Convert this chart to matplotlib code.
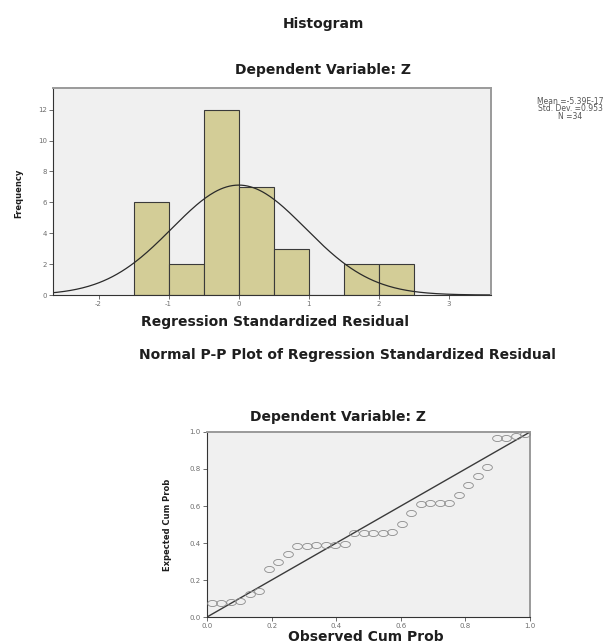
import numpy as np
import matplotlib.pyplot as plt
from matplotlib.path import Path

# Histogram of standardized residuals (bin edges and counts)
bin_edges = [-1.5, -1.0, -0.5, 0.0, 0.5, 1.0, 1.5, 2.0, 2.5]
counts = [6, 2, 12, 7, 3, 0, 2, 2]
res_mean = -5.39e-17
res_std = 0.953
n_obs = 34

# P-P plot values
expected_cum = [0.075, 0.078, 0.080, 0.085, 0.127, 0.142, 0.258, 0.296,
                0.340, 0.383, 0.385, 0.387, 0.388, 0.390, 0.392, 0.452,
                0.454, 0.455, 0.456, 0.458, 0.504, 0.564, 0.612, 0.614,
                0.616, 0.618, 0.660, 0.715, 0.764, 0.813, 0.965, 0.968,
                0.980, 0.990]

plt.rcParams['font.family'] = ['DejaVu Sans']
plt.rcParams['axes.unicode_minus'] = False
bg = '#f0f0f0'
frame = '#9a9a9a'
tick_kw = dict(labelsize=5, labelcolor='#6e6e6e', length=3, width=0.6,
               color='#555555', pad=1.5)
lab_kw = dict(fontsize=10, fontweight='bold', color='#1e1e1e', ha='center', va='center')

# stretched circle marker (the source image is wider than tall)
t = np.linspace(0, 2 * np.pi, 40)
ellipse = Path(np.column_stack([1.6 * np.cos(t), np.sin(t)]))


def style_frame(ax):
    for side in ['top', 'right']:
        ax.spines[side].set_color(frame)
        ax.spines[side].set_linewidth(1.4)
    for side in ['left', 'bottom']:
        ax.spines[side].set_color('#333333')
        ax.spines[side].set_linewidth(0.8)


fig = plt.figure(figsize=(6.13, 6.44), dpi=100)

# --- Histogram ---
ax1 = fig.add_axes([0.0865, 0.5419, 0.7145, 0.3214])
ax1.set_facecolor(bg)
widths = np.diff(bin_edges)
ax1.bar(bin_edges[:-1], counts, width=widths, align='edge',
        color='#d3cd97', edgecolor='#3a3a3a', linewidth=0.8)
xs = np.linspace(-2.7, 3.7, 300)
binw = widths[0]
curve = n_obs * binw * np.exp(-0.5 * ((xs - res_mean) / res_std) ** 2) / (res_std * np.sqrt(2 * np.pi))
ax1.plot(xs, curve, color='#2a2a2a', linewidth=0.9)
ax1.set_xlim(-2.65, 3.6)
ax1.set_ylim(0, 13.4)
ax1.set_xticks([-2, -1, 0, 1, 2, 3])
ax1.set_yticks([0, 2, 4, 6, 8, 10, 12])
ax1.tick_params(**tick_kw)
style_frame(ax1)

fig.text(0.527, 0.963, 'Histogram', **lab_kw)
fig.text(0.527, 0.891, 'Dependent Variable: Z', **lab_kw)
fig.text(0.449, 0.500, 'Regression Standardized Residual', **lab_kw)
fig.text(0.031, 0.700, 'Frequency', rotation=90, fontsize=6, fontweight='bold',
         color='#1e1e1e', ha='center', va='center')
fig.text(0.93, 0.831, 'Mean =%.2E\nStd. Dev. =%.3f\nN =%d' % (res_mean, res_std, n_obs),
         ha='center', va='center', fontsize=5.5, linespacing=0.8, color='#555555')

# --- Normal P-P plot ---
observed_cum = (np.arange(1, n_obs + 1) - 0.5) / n_obs
ax2 = fig.add_axes([0.3377, 0.0419, 0.527, 0.2873])
ax2.set_facecolor(bg)
ax2.plot([0, 1], [0, 1], color='#3a3a3a', linewidth=1.0)
ax2.plot(observed_cum, expected_cum, linestyle='none', marker=ellipse, markersize=7,
         markerfacecolor='none', markeredgecolor='#8a8a8a', markeredgewidth=0.6, zorder=3)
ax2.set_xlim(0, 1)
ax2.set_ylim(0, 1)
pp_ticks = np.arange(0, 1.01, 0.2)
ax2.set_xticks(pp_ticks)
ax2.set_yticks(pp_ticks)
ax2.set_xticklabels(['%.1f' % v for v in pp_ticks])
ax2.set_yticklabels(['%.1f' % v for v in pp_ticks])
ax2.tick_params(**tick_kw)
style_frame(ax2)

fig.text(0.566, 0.449, 'Normal P-P Plot of Regression Standardized Residual', **lab_kw)
fig.text(0.551, 0.352, 'Dependent Variable: Z', **lab_kw)
fig.text(0.597, 0.0105, 'Observed Cum Prob', **lab_kw)
fig.text(0.274, 0.185, 'Expected Cum Prob', rotation=90, fontsize=6, fontweight='bold',
         color='#1e1e1e', ha='center', va='center')

fig.savefig('out.png', dpi=100)
